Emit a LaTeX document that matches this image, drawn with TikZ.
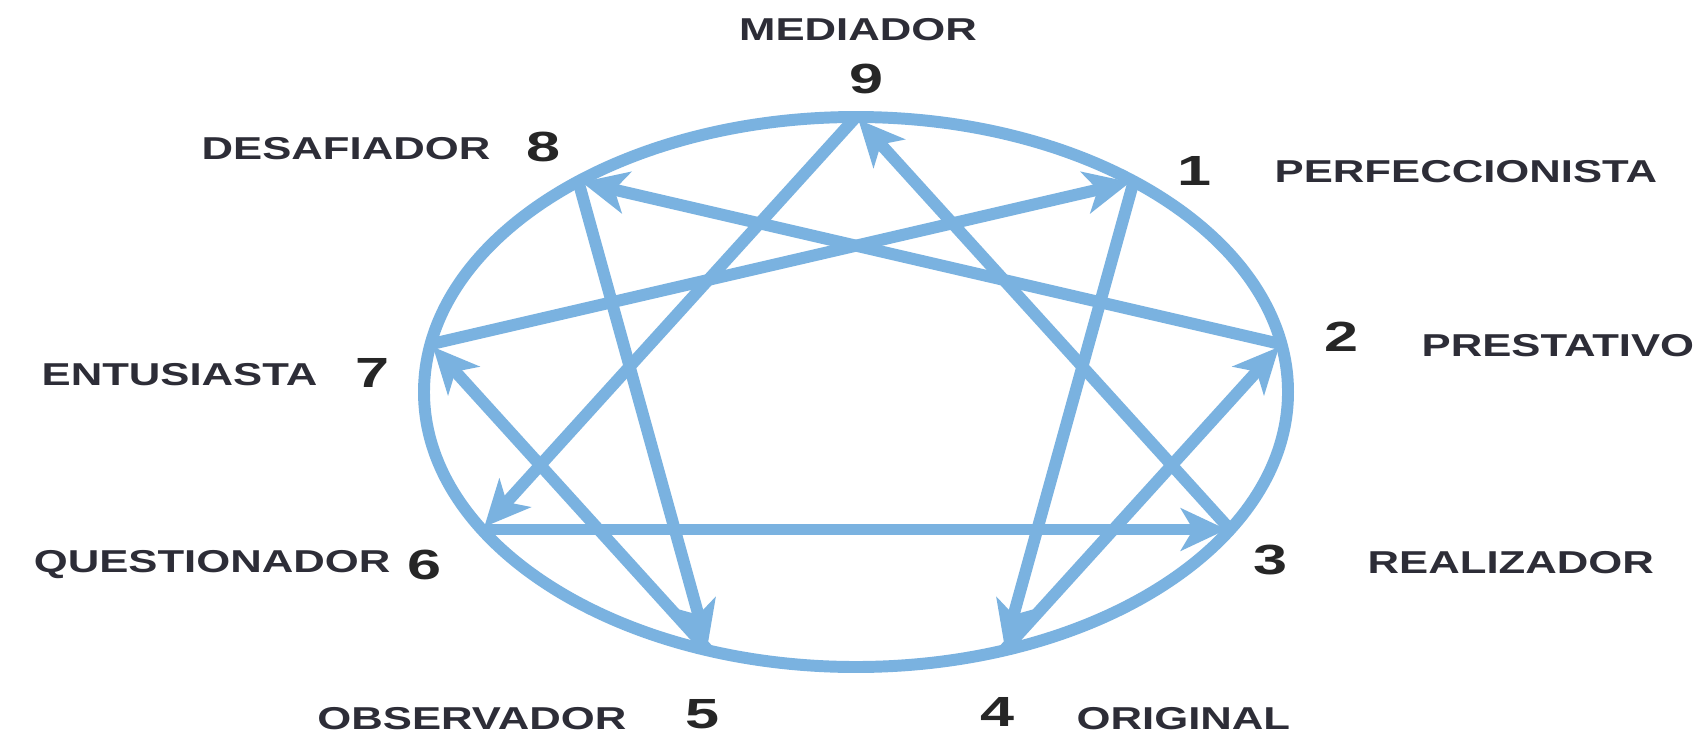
\documentclass[tikz,border=0pt]{standalone}
\usepackage{fontspec}
\usepackage{xcolor}
\usetikzlibrary{arrows.meta, calc}
\newfontfamily\typefont[FakeStretch=1.38]{Liberation Sans Bold}
\newfontfamily\digitfont[FakeStretch=1.45]{Liberation Sans Bold}
\definecolor{enneablue}{RGB}{122,178,224}
\definecolor{typegray}{RGB}{45,45,55}

\begin{document}
\begin{tikzpicture}[>={Stealth[length=13pt, width=12pt, inset=3.5pt]},
  ring/.style={draw=enneablue, line width=3.4pt},
  link/.style={draw=enneablue, line width=3.4pt, shorten >=1pt},
  digit/.style={font=\digitfont\fontsize{12}{12}\selectfont, text=black!85, inner sep=0pt},
  tname/.style={font=\typefont\fontsize{9}{9}\selectfont, text=typegray, inner sep=0pt}]
  \fill[white] (0,0) rectangle (17.04,7.41);
  \coordinate (c) at (8.56,3.49);
  \foreach \n/\a in {9/90,1/50,2/10,3/-30,4/-70,5/-110,6/-150,7/170,8/130}
    \coordinate (p\n) at ($(c)+(\a:4.32 and 2.75)$);
  \draw[ring] (c) ellipse [x radius=4.32, y radius=2.75];
  \foreach \s/\t in {9/6,6/3,3/9,1/4,4/2,2/8,8/5,5/7,7/1}
    \draw[link, ->] (p\s) -- (p\t);

  \node[digit] (n9) at (8.66,6.62) {9};
  \node[digit] (n1) at (11.94,5.70) {1};
  \node[digit] (n2) at (13.41,4.04) {2};
  \node[digit] (n3) at (12.70,1.81) {3};
  \node[digit] (n4) at (9.97,0.29) {4};
  \node[digit] (n5) at (7.02,0.27) {5};
  \node[digit] (n6) at (4.24,1.76) {6};
  \node[digit] (n7) at (3.72,3.68) {7};
  \node[digit] (n8) at (5.43,5.94) {8};

  \node[tname] (t9) at (8.58,7.11) {MEDIADOR};
  \node[tname, anchor=west] (t1) at (12.74,5.69) {PERFECCIONISTA};
  \node[tname, anchor=west] (t2) at (14.21,3.95) {PRESTATIVO};
  \node[tname, anchor=west] (t3) at (13.67,1.78) {REALIZADOR};
  \node[tname, anchor=west] (t4) at (10.76,0.22) {ORIGINAL};
  \node[tname, anchor=east] (t5) at (6.27,0.22) {OBSERVADOR};
  \node[tname, anchor=east] (t6) at (3.91,1.76) {QUESTIONADOR};
  \node[tname, anchor=east] (t7) at (3.18,3.66) {ENTUSIASTA};
  \node[tname, anchor=east] (t8) at (4.91,5.92) {DESAFIADOR};
\end{tikzpicture}
\end{document}
